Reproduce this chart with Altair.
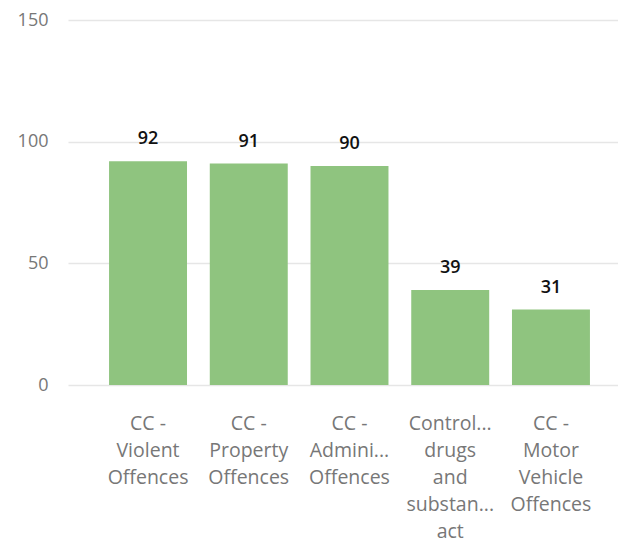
import altair as alt
import pandas as pd

categories = [
    "CC -|Violent|Offences",
    "CC -|Property|Offences",
    "CC -|Admini...|Offences",
    "Control...|drugs|and|substan...|act",
    "CC -|Motor|Vehicle|Offences",
]
values = [92, 91, 90, 39, 31]
y_ticks = [0, 50, 100, 150]

df = pd.DataFrame({"category": categories, "value": values})

FONT = "Open Sans"
GRAY = "#777777"

x_enc = alt.X(
    "category:N",
    sort=categories,
    title=None,
    scale=alt.Scale(paddingInner=0.226, paddingOuter=0.343, align=0.594),
    axis=alt.Axis(
        labelExpr="split(datum.label, '|')",
        labelAngle=0,
        labelFontSize=19.5,
        labelLineHeight=27,
        labelColor=GRAY,
        labelFont=FONT,
        labelPadding=29,
        domain=False,
        ticks=False,
        grid=False,
        labelLimit=200,
    ),
)

bars = alt.Chart(df).mark_bar(color="#8fc47f").encode(
    x=x_enc,
    y=alt.Y(
        "value:Q",
        title=None,
        scale=alt.Scale(domain=[0, 150], nice=False),
        axis=alt.Axis(
            values=y_ticks,
            labelFontSize=18,
            labelColor=GRAY,
            labelFont=FONT,
            labelPadding=20,
            domain=False,
            ticks=False,
            gridColor="#e6e6e6",
            gridWidth=1.5,
        ),
    ),
)

text = alt.Chart(df).mark_text(
    baseline="bottom", dy=-13, fontSize=18, fontWeight=600, font=FONT, color="#111111"
).encode(
    x=alt.X("category:N", sort=categories),
    y="value:Q",
    text="value:Q",
)

chart = (
    alt.layer(bars, text)
    .properties(
        width=550,
        height=365,
        autosize=alt.AutoSizeParams(type="none"),
        padding={"left": 60, "top": 12, "right": 0, "bottom": 157},
    )
    .configure_view(stroke=None)
)

chart.save("out.html", embed_options={"renderer": "svg", "actions": False})
